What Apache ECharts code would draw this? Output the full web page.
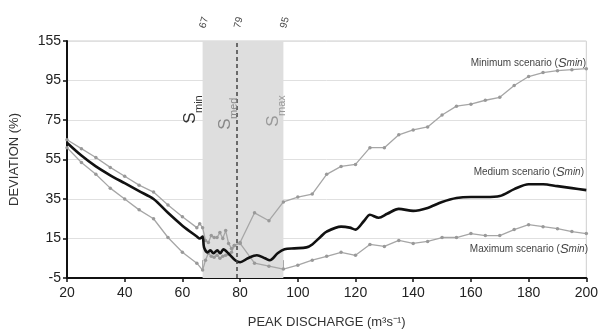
<!DOCTYPE html>
<html>
<head>
<meta charset="utf-8">
<script src="https://cdn.jsdelivr.net/npm/echarts@6/dist/echarts.min.js"></script>
<style>
  html, body { margin: 0; padding: 0; background: #fff; }
  #chart { width: 601px; height: 334px; }
</style>
</head>
<body>
<div id="chart"></div>
<script>
// peak discharge (m3/s) vs deviation (%)
const minScenario = [
  [20, 61], [25, 53.5], [30, 47.5], [35, 40.5], [40, 35], [45, 29.5], [50, 25], [55, 15.5],
  [60, 8], [65, 2.5], [67, -1], [68, 4], [69, 7.5], [70, 6], [71, 5.5], [72, 6.5], [73, 5],
  [74, 6], [75, 6.5], [76, 7], [77, 8], [78, 11.5], [80, 13], [85, 28], [90, 24], [95, 33.5],
  [100, 36], [105, 37.5], [110, 47.5], [115, 51.5], [120, 52.5], [125, 61], [130, 61],
  [135, 67.5], [140, 70], [145, 71.5], [150, 77.5], [155, 82], [160, 83], [165, 85],
  [170, 86.5], [175, 92.5], [180, 101], [185, 107], [190, 110], [195, 111.5], [200, 113]
];
const medScenario = [
  [20, 63.5], [25, 57], [30, 51.5], [35, 47], [40, 43], [45, 39], [50, 35], [55, 28],
  [60, 21.5], [65, 16], [66, 15], [67, 16], [67.5, 10.5], [68.7, 8], [69.7, 9], [70.7, 7.5],
  [72.1, 9], [73.1, 7.5], [74.2, 9.5], [75.9, 7.5], [78.3, 4], [80, 3], [82.7, 5], [85.8, 6.5],
  [88.6, 5], [90.3, 4], [93, 7.5], [95.4, 9.5], [98.8, 10], [103, 10.5], [105, 12], [108, 16],
  [110, 18.5], [115, 21], [118, 20.5], [120, 19.5], [123, 24], [125, 27], [128, 25.5],
  [131, 27.5], [135, 30], [140, 29], [145, 30.5], [150, 33.5], [155, 35.5], [160, 36],
  [165, 36], [170, 36.5], [175, 40], [180, 42.5], [185, 42.5], [190, 41.5], [195, 40.5], [200, 39.5]
];
const maxScenario = [
  [20, 65], [25, 60.5], [30, 56], [35, 51], [40, 46.5], [45, 42], [50, 38.5], [55, 32],
  [60, 26], [65, 20.5], [66, 22.5], [67, 20.5], [68, 14], [69, 13], [70, 16.5], [71, 15.5],
  [72, 15.5], [73, 18], [74, 15], [75, 19], [76, 12.5], [77, 10], [78, 11.5], [80, 12.5],
  [85, 2.5], [90, 1], [95, -0.5], [100, 1.5], [105, 4], [110, 6], [115, 8], [120, 6.5],
  [125, 12], [130, 11], [135, 14], [140, 12.5], [145, 13.5], [150, 15.5], [155, 15.5],
  [160, 17.5], [165, 16.5], [170, 16.5], [175, 19.5], [180, 22], [185, 21], [190, 20],
  [195, 18.5], [200, 17.5]
];
const bandTicks = [67, 79, 95]; // S_min, S_med, S_max

// y axis is broken above 95: 95..155 squeezed into one 20-unit step
const yBreak = 95;
const ySqueeze = 3;
function toAxis(v) { return v <= yBreak ? v : yBreak + (v - yBreak) / ySqueeze; }
function fromAxis(v) { return v <= yBreak ? v : yBreak + (v - yBreak) * ySqueeze; }
function conv(arr) { return arr.map(function (p) { return [p[0], toAxis(p[1])]; }); }

const font = "'Liberation Sans', Arial, sans-serif";
const grayLine = '#a6a6a6';

let myCharts = echarts.init(document.getElementById('chart'));

function grayLineSeries(name, data) {
  return {
    name: name,
    type: 'line',
    data: conv(data),
    symbol: 'circle',
    symbolSize: 3.5,
    showSymbol: true,
    lineStyle: { color: grayLine, width: 1.3 },
    itemStyle: { color: '#999' },
    z: 3
  };
}

// rotated S_xxx marks over the shaded band
const sText = function (x, y, sub, color) {
  return [
    {
      type: 'text', x: x, y: y, rotation: Math.PI / 2, z: 100,
      style: { text: 'S', font: '17px ' + font, fill: color, align: 'center', verticalAlign: 'middle' }
    },
    {
      type: 'text', x: x + 9, y: y - 5, rotation: Math.PI / 2, z: 100,
      style: { text: sub, font: '11px ' + font, fill: color, align: 'left', verticalAlign: 'middle' }
    }
  ];
};

const scenLabel = function (x, y, name) {
  return {
    type: 'text', x: x, y: y, z: 100,
    style: {
      text: name + ' ({s|S}{sub|min})',
      font: '10px ' + font, fill: '#444', align: 'right', verticalAlign: 'middle',
      rich: {
        s: { fontSize: 13, fontStyle: 'italic', fontFamily: 'Liberation Sans', fill: '#444' },
        sub: { fontSize: 10, fontStyle: 'italic', fontFamily: 'Liberation Sans', fill: '#444' }
      }
    }
  };
};

let option = {
  backgroundColor: '#fff',
  animation: false,
  grid: { left: 65, right: 11, top: 41, bottom: 56, show: true, borderColor: '#cfcfcf', borderWidth: 1 },
  xAxis: [
    {
      type: 'value', min: 20, max: 200, interval: 20,
      name: 'PEAK DISCHARGE (m³s⁻¹)', nameLocation: 'middle', nameGap: 38,
      nameTextStyle: { fontFamily: font, fontSize: 13, color: '#333' },
      axisLine: { onZero: false, lineStyle: { color: '#111', width: 2 } },
      axisTick: { show: true, length: 4, lineStyle: { color: '#111', width: 1.5 } },
      axisLabel: { fontFamily: font, fontSize: 14, color: '#222', margin: 8 },
      splitLine: { show: false }
    },
    {
      type: 'value', min: 20, max: 200, position: 'top',
      axisLine: { show: false },
      axisTick: { show: true, customValues: bandTicks, length: 8, lineStyle: { color: '#888', width: 1 } },
      axisLabel: { customValues: bandTicks, rotate: 75, fontFamily: font, fontSize: 10, color: '#444', margin: 13 },
      splitLine: { show: false }
    }
  ],
  yAxis: {
    type: 'value', min: -5, max: toAxis(155), interval: 20,
    name: 'DEVIATION (%)', nameLocation: 'middle', nameGap: 46,
    nameTextStyle: { fontFamily: font, fontSize: 13, color: '#333' },
    axisLine: { show: true, onZero: false, lineStyle: { color: '#111', width: 2 } },
    axisTick: { show: true, length: 4, lineStyle: { color: '#111', width: 1.5 } },
    axisLabel: {
      fontFamily: font, fontSize: 14, color: '#222', margin: 6,
      formatter: function (v) { return String(Math.round(fromAxis(v))); }
    },
    splitLine: { show: true, lineStyle: { color: '#e0e0e0', width: 1 } }
  },
  series: [
    {
      name: 'band',
      type: 'line',
      data: [],
      markArea: {
        silent: true,
        itemStyle: { color: '#dedede' },
        data: [[{ xAxis: bandTicks[0] }, { xAxis: bandTicks[2] }]]
      },
      markLine: {
        silent: true,
        symbol: 'none',
        label: { show: false },
        lineStyle: { color: '#444', type: [4, 3], width: 1.5 },
        data: [{ xAxis: bandTicks[1] }]
      },
      z: 1
    },
    grayLineSeries('Minimum scenario', minScenario),
    grayLineSeries('Maximum scenario', maxScenario),
    {
      name: 'Medium scenario',
      type: 'line',
      data: conv(medScenario),
      showSymbol: false,
      smooth: 0.3,
      lineStyle: { color: '#111', width: 2.6 },
      z: 4
    }
  ],
  graphic: [].concat(
    sText(190, 118, 'min', '#333'),
    sText(225, 124, 'med', '#888'),
    sText(273, 121, 'max', '#999'),
    [
      scenLabel(586, 63, 'Minimum scenario'),
      scenLabel(584, 172, 'Medium scenario'),
      scenLabel(588, 249, 'Maximum scenario')
    ]
  )
};

myCharts.setOption(option);
</script>
</body>
</html>
